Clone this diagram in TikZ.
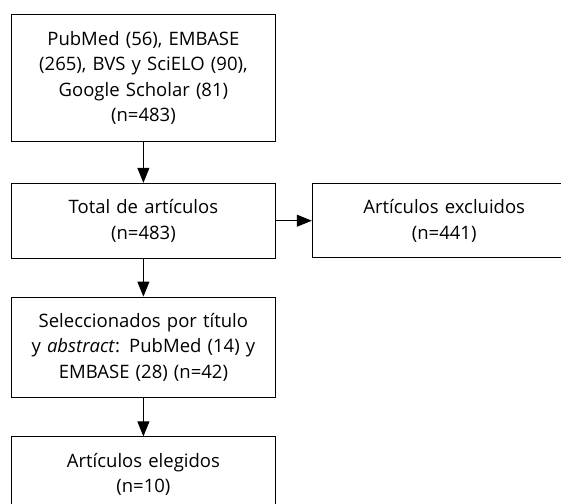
\documentclass[tikz,border=0pt]{standalone}
\usepackage{fontspec}
\setmainfont{Open Sans}
\usetikzlibrary{positioning}
\usetikzlibrary{arrows.meta}

\begin{document}
\begin{tikzpicture}[
			x=1pt, y=1pt,
			box/.style = {
				draw, rectangle, line width=0.8pt,
				minimum width=264pt, text width=258pt,
				align=center, inner sep=0pt,
				font=\fontsize{18.5}{25.5}\selectfont
			},
			flow/.style = {
				line width=0.8pt, -{Triangle[length=15pt,width=12pt]}
			}]
			\useasboundingbox (0,0) rectangle (561,-503);
			\node (fuentes) [box, minimum height=127pt, anchor=north west] at (11,-14)
				{PubMed (56), EMBASE\\ (265), BVS y SciELO (90),\\ Google Scholar (81)\\ (n=483)};
			\node (total) [box, minimum height=75pt, below = 41pt of fuentes]
				{Total de artículos\\ (n=483)};
			\node (excluidos) [box, minimum height=74pt, right = 36pt of total]
				{Artículos excluidos\\ (n=441)};
			\node (seleccion) [box, minimum height=100pt, below = 38pt of total]
				{Seleccionados por título\\ y \textit{abstract}: PubMed (14) y\\ EMBASE (28) (n=42)};
			\node (elegidos) [box, minimum height=75pt, below = 39pt of seleccion]
				{Artículos elegidos\\ (n=10)};
			\path [flow]
			(fuentes) edge (total)
			(total) edge (excluidos)
			(total) edge (seleccion)
			(seleccion) edge (elegidos);
		\end{tikzpicture}
\end{document}
